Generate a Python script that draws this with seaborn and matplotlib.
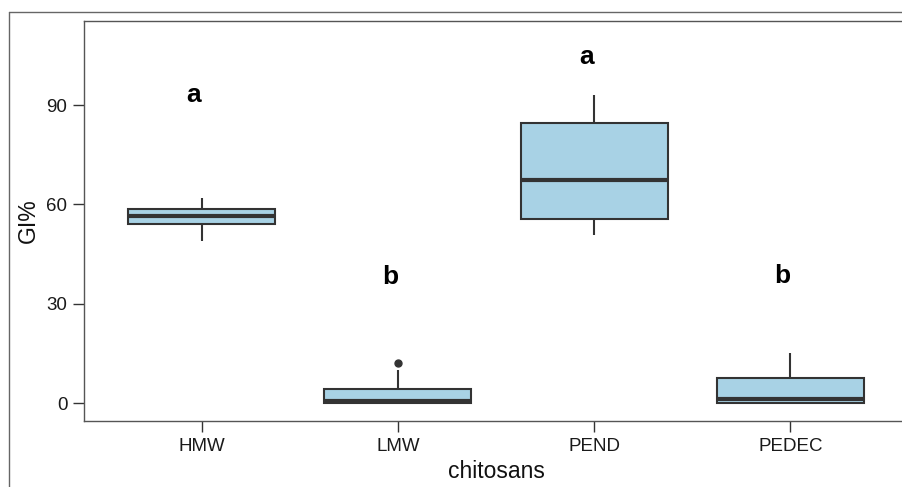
import matplotlib
matplotlib.use("Agg")
from matplotlib import pyplot as plt
from matplotlib.lines import Line2D
import seaborn as sns
import pandas as pd

# values (5 or 9 points per group)
groups = ["HMW", "LMW", "PEND", "PEDEC"]
hmw = [49.0, 54.1, 56.5, 58.6, 62.0]
lmw = [0.0, 0.0, 0.0, 0.3, 0.6, 1.5, 4.2, 10.0, 12.1]
pend = [50.8, 55.6, 67.4, 84.6, 93.0]
pedec = [0.0, 0.0, 0.0, 0.5, 1.2, 3.0, 7.6, 12.0, 15.1]
letters = ["a", "b", "a", "b"]
letter_y = [93, 38, 104.5, 38.5]
yticks = [0, 30, 60, 90]

values = [hmw, lmw, pend, pedec]
df = pd.DataFrame({
    "chitosans": [g for g, v in zip(groups, values) for _ in v],
    "GI%": [x for v in values for x in v],
})

sns.set_theme(style="white")
plt.rcParams["font.family"] = ["Liberation Sans", "DejaVu Sans"]

fig = plt.figure(figsize=(9.03, 4.87), dpi=100)
ax = fig.add_axes([84 / 903, 1 - 421 / 487, 824 / 903, 400 / 487])

sns.boxplot(data=df, x="chitosans", y="GI%", order=groups, ax=ax,
            color="#a8d2e5", width=0.75, linecolor="#333333", linewidth=1.5,
            showcaps=False, saturation=1,
            medianprops={"linewidth": 3, "color": "#333333"},
            flierprops={"marker": "o", "markersize": 5,
                        "markerfacecolor": "#333333",
                        "markeredgecolor": "#333333"})

for i, (lab, yy) in enumerate(zip(letters, letter_y)):
    ax.text(i - 0.04, yy, lab, ha="center", va="center",
            fontsize=19, fontweight="bold", color="black")

ax.set_xlim(-0.6, 3.6)
ax.set_ylim(-5.4, 115.4)
ax.set_yticks(yticks)
ax.set_xlabel("chitosans", fontsize=16.5, color="#111111", labelpad=4)
ax.set_ylabel("GI%", fontsize=16.5, color="#111111", labelpad=5)
ax.tick_params(axis="both", which="major", length=8, width=1,
               color="#333333", labelsize=13.5, labelcolor="#1a1a1a",
               left=True, bottom=True, pad=4)

for s in ax.spines.values():
    s.set_visible(True)
    s.set_color("#555555")
    s.set_linewidth(1)
ax.spines["right"].set_visible(False)

# outer frame of the figure: only the left and top edges are in view
fx = 9.5 / 903
fy = 1 - 11.5 / 487
fig.add_artist(Line2D([fx, fx], [0, fy], transform=fig.transFigure,
                      color="#666666", linewidth=1))
fig.add_artist(Line2D([fx, 1], [fy, fy], transform=fig.transFigure,
                      color="#666666", linewidth=1))

fig.savefig("out.png", dpi=100)
